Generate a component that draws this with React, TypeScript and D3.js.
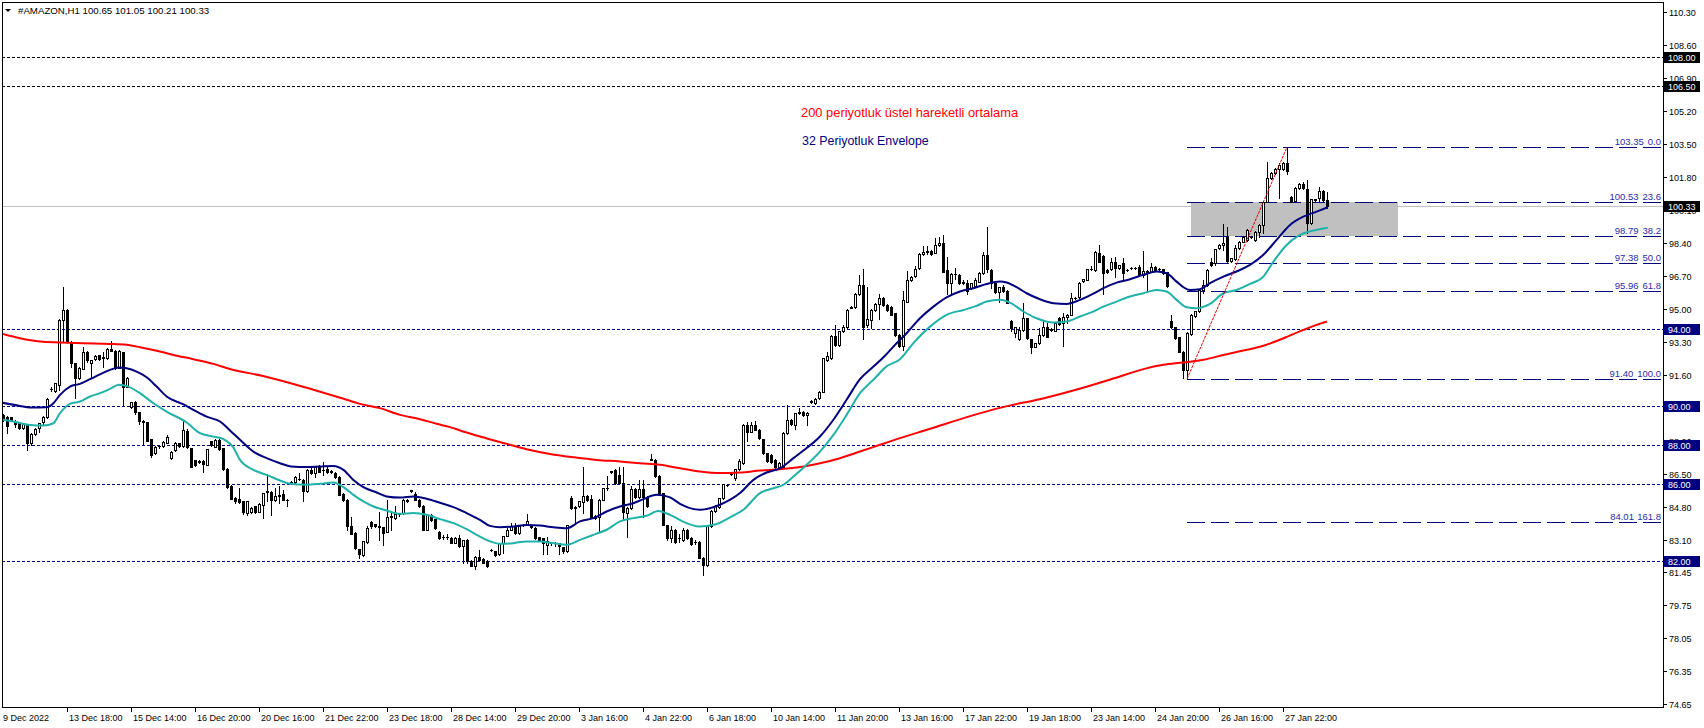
import React from 'react';
import * as d3 from 'd3';

// ---------- DATA ----------
const opens = [
89.52,89.43,89.43,89.17,89.12,88.86,89.03,88.12,88.57,88.86,
89.16,89.46,90.87,90.80,91.10,94.44,94.96,93.33,92.21,91.44,
91.92,92.81,92.25,92.42,92.62,92.48,92.47,92.95,92.85,91.99,
92.78,91.01,89.95,90.24,89.69,89.20,89.17,88.30,87.58,87.93,
87.95,88.12,87.35,87.75,88.09,87.95,88.74,87.83,87.23,87.10,
87.18,86.97,88.18,87.92,88.26,87.83,86.75,85.90,85.29,85.22,
85.09,84.50,84.52,84.83,84.57,84.92,85.58,85.60,85.17,85.36,
85.47,85.16,86.06,86.10,86.24,86.20,85.65,86.72,86.58,86.89,
86.71,86.75,86.62,86.58,86.37,85.48,85.17,83.83,83.46,82.63,
82.34,82.98,84.02,83.93,83.79,83.75,83.54,84.30,84.23,84.42,
84.49,85.13,85.64,85.48,85.17,84.86,83.63,84.40,84.18,83.54,
83.26,83.28,83.20,82.97,83.23,82.77,83.11,82.00,81.77,82.25,
82.10,82.00,82.58,82.51,82.39,82.94,83.32,83.63,83.80,83.45,
83.87,83.94,83.79,83.71,83.25,83.20,82.86,82.93,82.93,82.94,
82.73,82.51,85.26,84.77,84.83,85.05,85.38,85.21,84.35,84.28,
85.17,85.76,86.66,86.72,86.46,86.03,84.49,84.74,85.72,85.31,
85.72,85.31,87.25,87.23,86.41,85.52,83.88,83.20,83.60,83.18,
83.10,83.60,83.20,82.98,83.00,82.20,81.80,83.80,84.60,84.80,
85.26,85.93,86.49,86.29,86.75,87.06,89.04,88.69,89.04,88.78,
88.30,87.58,87.50,87.24,86.86,86.89,88.61,89.29,89.04,89.66,
89.72,89.55,90.22,90.15,90.41,90.75,92.39,92.47,93.62,93.16,
93.85,94.10,95.08,95.10,95.79,96.25,94.19,94.45,94.96,95.27,
95.60,95.22,95.13,94.79,93.67,93.11,95.39,96.51,96.71,97.11,
97.85,97.96,98.02,97.92,98.31,98.43,97.02,96.37,96.80,96.77,
96.36,96.34,96.08,96.20,96.42,96.85,97.80,97.02,96.34,95.91,
96.13,95.96,94.41,93.76,93.45,93.93,94.53,93.45,93.07,93.25,
93.67,94.10,93.95,93.90,94.53,94.27,94.58,94.71,95.55,95.65,
96.47,96.51,97.05,97.02,97.92,97.74,97.02,97.06,97.45,97.11,
97.37,97.01,97.10,97.10,97.19,96.77,96.99,96.94,97.19,97.05,
97.06,96.89,94.41,94.07,93.55,92.81,91.87,93.72,94.65,94.88,
95.99,96.25,97.45,97.37,98.14,98.31,98.74,97.50,97.57,98.14,
98.48,98.57,98.70,98.57,99.00,99.34,100.54,101.75,102.00,102.21,
102.21,102.52,100.80,100.60,101.23,101.45,101.18,99.46,100.64,100.71,
101.11,100.65];

const highs = [
89.60,89.50,89.46,89.29,89.20,89.15,89.10,88.60,88.85,89.15,
89.50,90.41,91.00,91.20,94.50,96.16,95.00,93.35,92.25,92.00,
93.04,92.85,92.40,92.65,92.65,92.81,93.00,93.36,92.90,92.90,
92.80,91.50,90.20,90.25,89.70,89.29,89.20,88.30,87.95,88.00,
88.20,88.50,87.70,88.15,88.10,89.21,88.80,87.85,87.25,87.20,
87.20,87.80,88.20,88.30,88.30,87.85,86.80,85.92,85.30,85.77,
85.12,85.10,84.78,84.88,85.00,85.55,86.51,85.62,85.77,85.90,
85.69,85.20,86.12,86.40,86.55,86.25,86.75,86.80,86.89,86.96,
87.11,86.90,86.70,86.60,86.40,85.50,85.20,84.30,83.50,82.65,
83.05,83.83,84.10,83.95,84.57,83.78,85.17,84.49,84.83,84.50,
85.20,85.20,85.70,85.60,85.20,84.90,84.45,84.42,84.20,83.58,
83.35,83.40,83.25,83.25,83.37,83.12,83.15,82.05,82.30,82.60,
82.15,82.05,82.66,82.55,82.95,83.32,83.70,83.97,83.97,83.88,
83.95,84.43,83.90,83.75,83.28,83.22,83.28,83.00,83.00,82.96,
82.75,83.90,85.38,84.85,85.12,86.86,85.42,85.44,84.38,85.20,
85.80,86.41,86.68,86.75,86.86,86.86,84.80,85.90,85.78,86.17,
86.17,85.35,87.54,87.30,86.45,85.55,83.90,83.80,83.65,83.40,
83.70,83.65,83.25,83.10,83.05,82.25,83.85,84.65,84.90,85.28,
86.00,86.00,86.58,86.78,87.27,89.06,89.16,89.16,89.21,88.80,
88.32,87.60,87.55,87.28,87.10,88.65,90.07,89.32,89.66,89.90,
89.75,89.70,90.30,90.40,90.78,92.50,92.81,93.65,94.19,93.88,
94.19,95.00,95.15,95.82,96.77,97.06,96.16,95.00,95.30,95.78,
95.65,95.25,95.18,94.82,93.70,95.96,96.99,96.72,97.23,97.88,
98.23,98.23,98.05,98.66,98.74,98.83,97.71,96.86,97.11,96.82,
96.51,96.51,96.36,96.59,96.94,97.97,99.26,97.05,96.37,96.16,
96.25,96.00,94.45,94.10,94.10,95.31,94.56,93.48,93.28,94.02,
94.41,94.27,94.05,94.34,94.62,94.79,94.74,95.82,95.62,96.38,
96.58,97.09,97.20,97.99,98.31,97.78,97.06,97.62,97.71,97.30,
97.62,97.08,97.16,97.16,97.28,98.02,97.02,97.37,97.22,97.10,
97.08,96.92,94.70,94.10,93.58,92.84,93.80,94.73,94.91,96.02,
96.51,97.05,97.62,98.12,98.35,99.38,99.26,97.66,98.31,98.52,
98.75,99.12,98.76,99.04,99.38,100.58,102.60,102.05,102.25,102.52,
102.60,103.35,100.85,101.28,101.50,101.57,101.66,100.70,100.70,101.28,
101.15,101.05];

const lows = [
89.21,88.60,89.25,88.95,88.80,88.80,87.75,88.00,88.50,88.69,
89.10,89.38,90.80,90.75,90.84,93.33,93.30,92.04,90.41,91.40,
91.90,92.30,91.44,92.40,92.40,92.04,92.45,92.85,91.90,91.95,
90.07,91.00,89.90,89.60,89.10,88.00,88.20,87.40,87.55,87.85,
87.90,88.10,87.30,87.70,87.90,87.90,87.85,86.85,86.90,87.05,
86.63,86.95,87.95,87.90,87.75,86.70,85.80,85.20,85.00,85.00,
84.45,84.40,84.48,84.50,84.52,84.23,85.09,84.40,85.10,85.00,
85.15,84.87,86.00,86.05,86.20,85.09,85.60,86.50,86.34,86.60,
86.46,86.55,86.55,86.30,85.40,85.10,83.63,83.40,82.65,82.15,
82.30,82.95,83.70,83.75,83.11,82.82,83.50,83.63,84.20,84.35,
84.45,85.08,85.60,85.15,84.80,83.60,83.60,84.10,83.68,83.15,
83.15,83.15,82.95,82.93,82.75,81.94,81.91,81.75,81.60,82.05,
81.90,81.70,82.52,82.30,82.35,82.43,83.30,83.60,83.40,83.40,
83.80,83.90,83.70,83.15,83.05,82.39,82.39,82.85,82.77,82.39,
82.45,82.48,84.70,84.00,84.80,84.49,85.10,84.28,84.20,83.54,
85.14,85.70,86.58,86.00,86.00,84.14,83.25,84.70,85.28,85.28,
84.31,84.80,87.20,86.35,85.48,83.85,83.10,83.00,82.95,83.00,
83.05,83.15,82.85,82.90,82.15,81.30,81.75,83.75,84.55,84.75,
85.20,85.90,86.45,86.20,86.72,87.00,88.23,88.65,88.75,88.30,
87.55,87.10,87.05,86.72,86.82,86.85,88.58,89.05,88.82,89.60,
89.50,89.04,90.18,90.10,90.38,90.72,92.35,92.45,93.10,93.12,
93.80,94.05,95.05,95.05,95.75,93.45,94.10,94.02,94.90,94.48,
95.18,94.92,94.68,93.62,93.05,92.90,95.35,96.45,96.68,97.05,
97.80,97.85,97.80,97.88,98.28,96.90,95.78,95.74,96.55,96.30,
96.30,95.79,96.05,96.15,96.40,96.80,96.94,96.08,95.85,95.39,
95.90,95.30,93.90,93.55,93.40,93.85,93.45,92.76,93.03,93.22,
93.64,93.55,93.90,93.87,94.20,93.11,94.28,94.68,95.50,95.60,
96.42,96.48,97.00,96.98,97.42,95.80,96.85,97.02,96.68,97.05,
96.58,96.96,97.05,97.05,96.74,96.68,95.91,96.90,96.98,97.00,
96.82,96.14,94.05,93.45,92.78,91.45,91.40,93.68,94.60,94.85,
95.82,96.20,97.25,97.30,98.10,98.05,97.37,97.45,97.55,98.10,
98.45,98.52,98.66,98.52,98.74,98.91,100.50,101.70,101.95,100.72,
102.15,101.95,100.50,100.55,101.20,101.20,98.91,99.40,100.60,100.58,
100.60,100.21];

const closes = [
89.29,89.00,89.31,89.09,88.86,89.09,88.12,88.57,88.81,89.12,
89.46,90.36,90.90,91.18,94.44,94.96,93.33,92.21,91.44,91.95,
92.81,92.38,92.38,92.61,92.42,92.52,92.95,92.86,91.95,92.85,
91.01,91.44,90.19,89.69,89.21,89.22,88.23,87.49,87.92,87.97,
88.16,88.43,87.64,88.09,87.95,88.78,87.88,86.89,86.97,87.15,
87.01,87.78,88.00,88.26,87.78,86.75,85.82,85.21,85.12,85.04,
84.52,85.09,84.74,84.57,84.97,85.52,85.62,85.17,85.38,85.40,
85.17,85.18,86.08,86.34,86.27,85.65,86.72,86.55,86.89,86.63,
86.73,86.60,86.64,86.34,85.43,85.17,83.80,83.41,82.68,82.39,
83.03,83.71,83.80,83.80,83.81,83.46,84.31,84.32,84.43,84.44,
85.14,85.15,85.66,85.17,84.83,83.63,84.40,84.14,83.71,83.20,
83.25,83.27,82.97,83.20,82.77,83.08,82.00,81.77,82.25,82.08,
81.94,81.74,82.61,82.34,82.94,83.32,83.63,83.80,83.45,83.83,
83.89,84.06,83.81,83.20,83.08,82.94,83.03,82.95,82.95,82.77,
82.51,83.88,84.74,84.79,85.09,85.38,85.17,84.31,84.23,85.17,
85.77,85.78,86.61,86.03,86.03,84.52,84.74,85.72,85.31,85.72,
85.31,84.83,87.28,86.38,85.52,83.88,83.20,83.60,83.00,83.22,
83.60,83.20,82.90,83.02,82.20,81.80,83.80,84.60,84.86,85.26,
85.99,85.96,86.52,86.75,87.15,89.04,88.69,89.04,88.78,88.35,
87.58,87.15,87.10,86.86,87.06,88.61,89.29,89.09,89.64,89.69,
89.55,89.67,90.25,90.36,90.75,92.47,92.59,93.62,93.16,93.85,
94.07,94.96,95.11,95.79,96.25,94.07,94.48,94.96,95.27,95.56,
95.22,94.96,94.71,93.67,93.11,95.48,96.51,96.68,97.06,97.85,
97.97,97.98,97.85,98.31,98.43,96.94,96.37,96.82,96.83,96.34,
96.38,95.96,96.34,96.51,96.85,97.80,97.06,96.34,95.91,96.13,
95.96,95.34,94.02,94.07,93.93,94.53,93.50,93.07,93.25,93.67,
94.10,93.59,93.98,94.31,94.24,94.58,94.71,95.56,95.57,96.34,
96.54,97.06,97.07,97.97,97.45,96.85,96.89,97.45,97.11,97.28,
96.85,97.03,97.12,97.12,96.77,96.99,96.85,97.19,97.02,97.07,
96.85,96.17,94.10,93.50,92.81,91.87,93.76,94.70,94.88,95.99,
96.25,97.02,97.28,98.09,98.31,98.40,97.50,97.62,98.14,98.48,
98.71,99.08,98.72,99.00,99.34,100.54,101.75,102.00,102.21,102.43,
102.52,102.14,100.54,101.23,101.45,101.23,99.46,100.66,100.67,101.11,
100.63,100.33];

// envelope upper (navy) [candle index, price]
const envelopeUpper: [number, number][] = [
[-0.75,90.2],[4.25,90.01],[6.75,89.93],[10.9,89.94],[12.6,90.15],[14.25,90.58],[16.75,91.01],[19.25,91.15],
[21.75,91.39],[24.25,91.64],[26.75,91.87],[29,91.99],[30.9,91.95],[33.4,91.78],[35.9,91.49],[38.4,91.01],
[40.9,90.5],[45,90.1],[47.6,89.81],[50.9,89.46],[54.25,89.21],[56.75,88.75],[59.25,88.27],[62.6,87.66],
[65.9,87.32],[69.25,87.06],[72,86.89],[76,86.86],[79.25,86.89],[82.6,86.92],[85.1,86.72],[87.6,86.2],
[90.1,85.83],[93.4,85.55],[95.9,85.35],[99.25,85.29],[102.6,85.35],[105.9,85.23],[109.25,85.02],[112.6,84.8],
[115.9,84.49],[119.25,84.14],[121.75,83.83],[124.25,83.76],[127.6,83.8],[130.9,83.88],[134.25,83.85],[137.6,83.76],
[140.9,83.71],[144.25,84.06],[147.6,84.23],[150.9,84.57],[154.25,84.83],[157.6,85.0],[160.1,85.21],[163.4,85.43],
[166.75,85.3],[169.25,84.97],[174.25,84.66],[179.25,84.92],[184.25,85.52],[187.6,86.2],[190.9,86.58],[194.25,86.8],
[197.6,87.32],[200.9,87.84],[204.25,88.44],[207.6,89.3],[210.9,90.33],[214.25,91.39],[217.6,92.04],[220.5,92.6],
[222.6,93.07],[225.9,93.76],[229.25,94.53],[232.6,95.13],[235.9,95.61],[239.25,95.91],[242.6,96.08],[245.9,96.3],
[249.25,96.42],[250.9,96.37],[253.4,96.13],[255.9,95.82],[259.25,95.51],[262.6,95.31],[265.9,95.27],[269.25,95.48],
[272.6,95.8],[275.1,96.08],[278.4,96.37],[281.75,96.54],[285.1,96.77],[288.4,96.94],[290.9,96.85],[293.4,96.42],
[295.1,96.13],[296.75,95.99],[299.25,96.03],[301.75,96.34],[305.1,96.68],[308.4,96.94],[311.75,97.28],[315.1,97.8],
[318.4,98.57],[321.75,99.34],[325.1,99.77],[328.4,100.03],[331.2,100.25]];

// envelope lower (light sea green)
const envelopeLower: [number, number][] = [
[-0.75,89.33],[2.6,89.21],[6.75,89.03],[10.1,89.0],[12.6,89.12],[14.25,89.64],[16.75,90.12],[19.25,90.24],
[21.75,90.5],[24.25,90.67],[26.75,90.89],[29,91.1],[31.3,91.01],[34.25,90.67],[37.6,90.15],[40.9,89.72],
[45.9,89.16],[49.25,88.61],[52.6,88.43],[55.1,88.3],[57.5,87.9],[59.25,87.23],[62.6,86.72],[65.9,86.46],
[69.25,86.17],[71.75,86.0],[75.9,85.95],[79.25,86.0],[82.6,86.07],[85.1,85.83],[87.6,85.43],[90.1,85.09],
[92.6,84.83],[95.9,84.62],[99.25,84.45],[102.6,84.49],[105.9,84.4],[109.25,84.18],[112.6,83.97],[115.9,83.66],
[119.25,83.28],[121.75,83.03],[124.25,82.91],[127.6,82.94],[130.9,83.03],[134.25,83.03],[137.6,82.94],[140.9,82.86],
[144.25,83.11],[147.6,83.37],[150.9,83.63],[154.25,84.06],[157.6,84.23],[160.9,84.35],[163.8,84.6],[166.75,84.4],
[170,84.05],[174,83.8],[178,83.9],[182,84.3],[185.1,84.66],[189.25,85.52],[192.6,85.77],[195.1,85.95],
[197.6,86.37],[200.9,86.98],[204.25,87.66],[207.6,88.52],[210.9,89.55],[214.25,90.67],[217.6,91.36],[220.9,92.05],
[224.25,92.42],[227.6,93.25],[231.75,94.1],[235.9,94.71],[240.1,94.96],[243.4,95.17],[245.9,95.39],[249.25,95.48],
[251.75,95.34],[255.1,94.88],[258.4,94.53],[262.6,94.31],[265.9,94.36],[269.25,94.62],[272.2,94.85],[275.1,95.13],
[278.4,95.39],[281.75,95.65],[285.1,95.82],[288.4,95.99],[290.9,95.91],[293.4,95.48],[295.9,95.1],[298.4,95.05],
[301.75,95.27],[305.1,95.82],[308.4,95.99],[311.75,96.3],[315.1,96.68],[317.6,97.45],[320.9,98.31],[324.25,98.83],
[327.6,99.05],[331.2,99.2]];

// 200 period EMA (red)
const ema200: [number, number][] = [
[0,93.72],[4.25,93.5],[9.25,93.33],[14.25,93.28],[20.1,93.24],[26.75,93.21],[30.9,93.16],[34.25,93.04],
[37.6,92.9],[42.6,92.64],[47.6,92.42],[52.6,92.18],[56.75,91.92],[65,91.55],[75,91.0],[85.9,90.33],
[89.25,90.12],[94.25,89.9],[99.25,89.55],[104.25,89.33],[108.4,89.09],[111.75,88.92],[114.25,88.75],[119.25,88.44],
[125.9,88.06],[130.9,87.78],[136.75,87.54],[142.6,87.37],[148.4,87.23],[154.25,87.15],[159.25,87.06],[164.25,86.98],
[169.25,86.8],[174.25,86.63],[179.25,86.55],[184.25,86.58],[189.25,86.68],[194.25,86.75],[199.25,86.86],[204.25,87.06],
[209.25,87.32],[214.25,87.66],[219.25,88.01],[222,88.2],[232,88.85],[242,89.5],[250,89.95],[260,90.4],
[270,90.95],[278,91.45],[285.1,91.91],[290.1,92.13],[295.1,92.25],[300.1,92.39],[305.1,92.64],[310.1,92.87],
[315.1,93.11],[320.1,93.5],[325.1,93.93],[328.4,94.19],[331,94.36]];

const timeLabels = ["9 Dec 2022","13 Dec 18:00","15 Dec 14:00","16 Dec 20:00","20 Dec 16:00","21 Dec 22:00",
"23 Dec 18:00","28 Dec 14:00","29 Dec 20:00","3 Jan 16:00","4 Jan 22:00","6 Jan 18:00","10 Jan 14:00",
"11 Jan 20:00","13 Jan 16:00","17 Jan 22:00","19 Jan 18:00","23 Jan 14:00","24 Jan 20:00","26 Jan 16:00","27 Jan 22:00"];
const labelStep = 16;

const priceTicks = [110.30,108.60,106.90,105.20,103.50,101.80,100.10,98.40,96.70,95.00,93.30,91.60,
89.90,88.20,86.50,84.80,83.10,81.45,79.75,78.05,76.35,74.65];

const blackLevels = [108.00, 106.50];
const navyLevels = [94.00, 90.00, 88.00, 86.00, 82.00];
const bidPrice = 100.33;

const fibPrices = [103.35, 100.53, 98.79, 97.38, 95.96, 91.40, 84.01];
const fibRatios = ["0.0", "23.6", "38.2", "50.0", "61.8", "100.0", "161.8"];
const fibLow: [number, number] = [296, 91.40];
const fibHigh: [number, number] = [321, 103.35];

const zoneTime: [number, number] = [297, 348.75];
const zonePrice: [number, number] = [100.53, 98.79];

const headerText = "#AMAZON,H1  100.65 101.05 100.21 100.33";

// ---------- LAYOUT ----------
const W = 1704, H = 728;
const PL = 2, PR = 1663, PT = 2, PB = 707;
const FONT = "'Liberation Sans', Arial, sans-serif";

const x = d3.scaleLinear().domain([0, 331]).range([3, 1327]);
const y = d3.scaleLinear().domain([74.65, 110.30]).range([704, 12.3]);
const hy = (p: number) => Math.round(y(p)) + 0.5;

const lineGen = d3.line<[number, number]>()
  .x(d => x(d[0]))
  .y(d => y(d[1]))
  .curve(d3.curveMonotoneX);

export default function App() {
  const candles = closes.map((c, i) => {
    const o = opens[i], h = highs[i], l = lows[i];
    const cx = Math.round(x(i));
    const yh = Math.round(y(h)), yl = Math.round(y(l));
    const yo = Math.round(y(o)), yc = Math.round(y(c));
    const t = Math.min(yo, yc), b = Math.max(yo, yc);
    const bull = c >= o;
    let body;
    if (b - t < 1) {
      body = <rect x={cx - 1} y={t} width={3} height={1} fill="#000" />;
    } else if (bull) {
      body = <rect x={cx - 0.5} y={t + 0.5} width={2} height={b - t} fill="#fff" stroke="#000" strokeWidth={1} />;
    } else {
      body = <rect x={cx - 1} y={t} width={3} height={b - t + 1} fill="#000" />;
    }
    return (
      <g key={i}>
        <rect x={cx} y={yh} width={1} height={Math.max(1, yl - yh + 1)} fill="#000" />
        {body}
      </g>
    );
  });

  const fibX0 = Math.round(x(fibLow[0]));

  return (
    <div style={{ position: 'absolute', left: 0, top: 0, width: W, height: H, background: '#fff' }}>
      <svg width={W} height={H} style={{ display: 'block' }} fontFamily={FONT}>
        <defs>
          <clipPath id="plot">
            <rect x={PL + 1} y={PT + 1} width={PR - PL - 1} height={PB - PT - 1} />
          </clipPath>
        </defs>
        <rect x={0} y={0} width={W} height={H} fill="#fff" />

        <g clipPath="url(#plot)">
          {/* zone rectangle */}
          <rect x={Math.round(x(zoneTime[0]))} y={Math.round(y(zonePrice[0]))}
            width={Math.round(x(zoneTime[1])) - Math.round(x(zoneTime[0]))}
            height={Math.round(y(zonePrice[1])) - Math.round(y(zonePrice[0]))} fill="#c0c0c0" />
          {/* bid line */}
          <line x1={PL} x2={PR} y1={hy(bidPrice)} y2={hy(bidPrice)} stroke="#c0c0c0" strokeWidth={1} />
          {/* horizontal levels */}
          {blackLevels.map(p => (
            <line key={'b' + p} x1={PL} x2={PR} y1={hy(p)} y2={hy(p)} stroke="#000" strokeWidth={1} strokeDasharray="3 2" />
          ))}
          {navyLevels.map(p => (
            <line key={'n' + p} x1={PL} x2={PR} y1={hy(p)} y2={hy(p)} stroke="#000080" strokeWidth={1} strokeDasharray="3 2" />
          ))}
          {/* fibonacci levels */}
          {fibPrices.map(p => (
            <line key={'f' + p} x1={fibX0} x2={PR} y1={hy(p)} y2={hy(p)} stroke="#000080" strokeWidth={1} strokeDasharray="18 6" />
          ))}
          {/* candles */}
          {candles}
          {/* indicators */}
          <path d={lineGen(ema200) || ''} fill="none" stroke="#ff0000" strokeWidth={2} />
          <path d={lineGen(envelopeLower) || ''} fill="none" stroke="#20b2aa" strokeWidth={2} />
          <path d={lineGen(envelopeUpper) || ''} fill="none" stroke="#000080" strokeWidth={2} />
          {/* fib trend line */}
          <line x1={x(fibLow[0])} y1={y(fibLow[1])} x2={x(fibHigh[0])} y2={y(fibHigh[1])}
            stroke="#e00000" strokeWidth={1} strokeDasharray="3 1" />
          {/* fib labels */}
          {fibPrices.map((p, k) => (
            <text key={'fl' + p} x={1661} y={Math.round(y(p)) - 2} textAnchor="end" fontSize={9.5} fill="#2a2ab0">
              <tspan>{p.toFixed(2)}</tspan>
              <tspan dx={4}>{fibRatios[k]}</tspan>
            </text>
          ))}
          {/* annotations */}
          <text x={801} y={117} fontSize={12.9} fill="#ff0000">200 periyotluk üstel hareketli ortalama</text>
          <text x={802} y={145} fontSize={12.4} fill="#000080">32 Periyotluk Envelope</text>
        </g>

        {/* frame */}
        <rect x={PL + 0.5} y={PT + 0.5} width={PR - PL} height={PB - PT} fill="none" stroke="#000" strokeWidth={1} />

        {/* header */}
        <path d="M5,9 L11,9 L8,12 Z" fill="#000" />
        <text x={18} y={14} fontSize={9.7} fill="#000">{headerText}</text>

        {/* price axis */}
        {priceTicks.map(p => (
          <g key={'t' + p}>
            <line x1={PR} x2={PR + 4} y1={hy(p)} y2={hy(p)} stroke="#000" />
            <text x={PR + 6} y={Math.round(y(p)) + 3.5} fontSize={9} fill="#000">{p.toFixed(2)}</text>
          </g>
        ))}
        {[...blackLevels, bidPrice].map(p => (
          <g key={'bb' + p}>
            <rect x={PR + 1} y={Math.round(y(p)) - 5} width={36} height={11} fill="#000" />
            <text x={PR + 5} y={Math.round(y(p)) + 3.5} fontSize={9} fill="#fff">{p.toFixed(2)}</text>
          </g>
        ))}
        {navyLevels.map(p => (
          <g key={'nb' + p}>
            <rect x={PR + 1} y={Math.round(y(p)) - 5} width={36} height={11} fill="#000080" />
            <text x={PR + 5} y={Math.round(y(p)) + 3.5} fontSize={9} fill="#fff">{p.toFixed(2)}</text>
          </g>
        ))}

        {/* time axis */}
        {timeLabels.map((t, k) => {
          const xi = Math.round(x(k * labelStep));
          return (
            <g key={'x' + k}>
              {k > 0 && <line x1={xi + 0.5} x2={xi + 0.5} y1={PB} y2={PB + 5} stroke="#000" />}
              <text x={xi + (k > 0 ? 2 : 0)} y={721} fontSize={9} fill="#000">{t}</text>
            </g>
          );
        })}
      </svg>
    </div>
  );
}
